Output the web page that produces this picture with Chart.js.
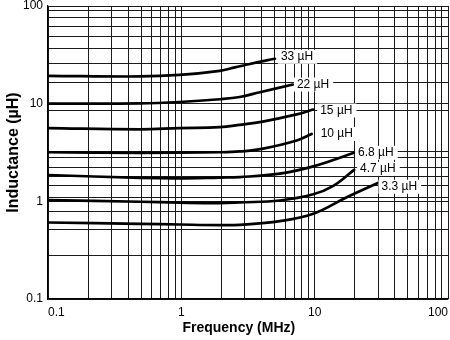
<!DOCTYPE html>
<html>
<head>
<meta charset="utf-8">
<script src="https://cdn.jsdelivr.net/npm/chart.js@4.4.1/dist/chart.umd.min.js"></script>
<style>
  html, body { margin: 0; padding: 0; background: #fff; }
  #wrap { width: 450px; height: 340px; }
</style>
</head>
<body>
<div id="wrap"><canvas id="inductanceChart"></canvas></div>
<script>
// Inductance vs frequency, one curve per nominal part value
const partLabels = ['33 µH', '22 µH', '15 µH', '10 µH', '6.8 µH', '4.7 µH', '3.3 µH'];

const freq33 = [0.1, 0.49, 0.97, 1.94, 2.52, 3.26, 5.03];
const ind33  = [19.3, 19.0, 19.7, 21.7, 23.5, 25.5, 28.8];

const freq22 = [0.1, 0.49, 0.97, 1.94, 2.74, 3.88, 6.87];
const ind22  = [10.0, 10.05, 10.4, 11.1, 11.7, 13.1, 15.7];

const freq15 = [0.1, 0.49, 0.97, 1.94, 2.74, 4.08, 7.33, 9.75];
const ind15  = [5.62, 5.46, 5.62, 5.75, 6.07, 6.56, 7.76, 8.71];

const freq10 = [0.1, 0.49, 1.94, 2.74, 4.11, 7.33, 9.49];
const ind10  = [3.18, 3.14, 3.18, 3.24, 3.47, 4.2, 4.9];

const freq6p8 = [0.1, 0.49, 0.97, 1.94, 2.74, 5.48, 9.76, 19.75];
const ind6p8  = [1.86, 1.74, 1.72, 1.75, 1.77, 1.92, 2.28, 3.14];

const freq4p7 = [0.1, 0.49, 0.97, 1.94, 2.74, 5.48, 9.76, 13.8, 19.75];
const ind4p7  = [1.03, 0.99, 0.97, 0.96, 0.975, 1.02, 1.18, 1.44, 2.1];

const freq3p3 = [0.1, 0.49, 0.97, 1.94, 2.74, 5.48, 9.76, 17.4, 30.1];
const ind3p3  = [0.607, 0.589, 0.579, 0.571, 0.575, 0.627, 0.746, 1.10, 1.55];

// axis ticks
const xDecades = [0.1, 1, 10];
const xSteps = [1, 2, 3, 4, 5, 6, 7, 8, 9];
const xLabels = [0.1, 1, 10, 100];
const yLabels = [0.1, 1, 10, 100];
// horizontal rules of the printed grid
const yGrid = [100, 91, 77, 62, 49, 37, 25.5, 16.4, 10, 8.57, 3.2, 2.79, 2.2, 1.78, 1.45, 1.1, 1,
               0.785, 0.513, 0.277, 0.1];

const xGrid = [];
xDecades.forEach(d => xSteps.forEach(s => xGrid.push(+(d * s).toPrecision(3))));
xGrid.push(100);

const series = [
  [freq33, ind33], [freq22, ind22], [freq15, ind15], [freq10, ind10],
  [freq6p8, ind6p8], [freq4p7, ind4p7], [freq3p3, ind3p3]
];

// label offset from the end of each curve, px
const labelNudge = [[6, -2], [4, 0], [7, 1], [9, 0], [4, 0], [6, -1], [3, 4]];

const FONT = '"Liberation Sans", Arial, Helvetica, sans-serif';
const gridColor = '#1a1a1a';

const curveLabels = {
  id: 'curveLabels',
  afterDatasetsDraw(chart) {
    const ctx = chart.ctx;
    ctx.save();
    ctx.font = '12px ' + FONT;
    ctx.textBaseline = 'middle';
    ctx.textAlign = 'left';
    chart.data.datasets.forEach((ds, i) => {
      const pts = chart.getDatasetMeta(i).data;
      const end = pts[pts.length - 1];
      const x = end.x + labelNudge[i][0];
      const y = end.y + labelNudge[i][1];
      const w = ctx.measureText(ds.label).width;
      ctx.fillStyle = '#fff';
      ctx.fillRect(x - 3, y - 7, w + 7, 14);
      ctx.fillStyle = '#000';
      ctx.fillText(ds.label, x, y);
    });
    ctx.restore();
  }
};

const axisTitles = {
  id: 'axisTitles',
  afterDraw(chart) {
    const {ctx, chartArea: a} = chart;
    ctx.save();
    ctx.fillStyle = '#000';
    ctx.textAlign = 'center';
    ctx.textBaseline = 'middle';
    ctx.font = 'bold 14px ' + FONT;
    ctx.fillText('Frequency (MHz)', a.left + a.width * 0.477, 328);
    ctx.translate(14, (a.top + a.bottom) / 2);
    ctx.rotate(-Math.PI / 2);
    ctx.font = 'bold 16px ' + FONT;
    ctx.fillText('Inductance (µH)', 0, 0);
    ctx.restore();
  }
};

new Chart(document.getElementById('inductanceChart'), {
  type: 'scatter',
  data: {
    datasets: series.map(([f, l], i) => ({
      label: partLabels[i],
      data: f.map((v, j) => ({x: v, y: l[j]})),
      showLine: true,
      borderColor: '#000',
      borderWidth: 2.7,
      borderCapStyle: 'round',
      pointRadius: 0,
      tension: 0.4
    }))
  },
  options: {
    responsive: true,
    maintainAspectRatio: false,
    animation: false,
    layout: { padding: { top: 6, right: 2, bottom: 0, left: 0 } },
    plugins: {
      legend: { display: false },
      tooltip: { enabled: false }
    },
    scales: {
      x: {
        type: 'logarithmic',
        min: 0.1,
        max: 100,
        afterBuildTicks: s => { s.ticks = xGrid.map(v => ({value: v})); },
        afterFit: s => { s.height = 41; s.paddingLeft = 0; s.paddingRight = 0; },
        grid: { color: gridColor, lineWidth: 1, drawTicks: false },
        border: { color: '#000', width: 1.2 },
        ticks: {
          autoSkip: false,
          maxRotation: 0,
          align: 'inner',
          padding: 6,
          color: '#000',
          font: { family: FONT, size: 12 },
          callback: v => xLabels.includes(v) ? String(v) : ''
        }
      },
      y: {
        type: 'logarithmic',
        min: 0.1,
        max: 100,
        afterBuildTicks: s => { s.ticks = yGrid.map(v => ({value: v})); },
        afterFit: s => { s.width = 48; s.paddingTop = 0; s.paddingBottom = 0; },
        grid: { color: gridColor, lineWidth: 1, drawTicks: false },
        border: { color: '#000', width: 1.2 },
        ticks: {
          autoSkip: false,
          padding: 5,
          color: '#000',
          font: { family: FONT, size: 12 },
          callback: v => yLabels.includes(v) ? String(v) : ''
        }
      }
    }
  },
  plugins: [curveLabels, axisTitles]
});
</script>
</body>
</html>
